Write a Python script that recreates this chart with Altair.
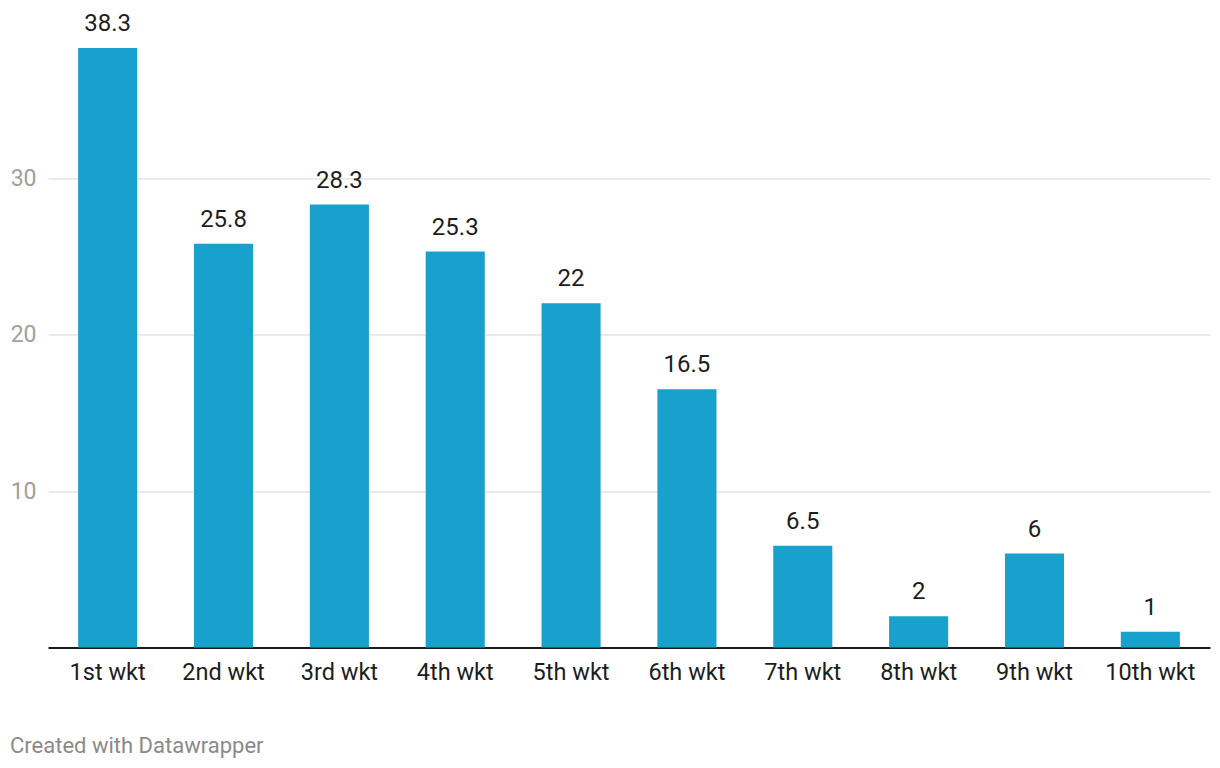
import altair as alt
import pandas as pd

categories = ["1st wkt", "2nd wkt", "3rd wkt", "4th wkt", "5th wkt",
              "6th wkt", "7th wkt", "8th wkt", "9th wkt", "10th wkt"]
values = [38.3, 25.8, 28.3, 25.3, 22, 16.5, 6.5, 2, 6, 1]
labels = ["38.3", "25.8", "28.3", "25.3", "22", "16.5", "6.5", "2", "6", "1"]
y_ticks = [10, 20, 30]
footer = "Created with Datawrapper"

df = pd.DataFrame({"cat": categories, "val": values, "lab": labels})

FONT = "Roboto"
W, H = 1162, 626

x = alt.X("cat:N", sort=categories, title=None,
          scale=alt.Scale(paddingInner=0.49, paddingOuter=0.26),
          axis=alt.Axis(labelAngle=0, labelFontSize=23.5, labelColor="#1d1d1d",
                        labelFont=FONT, labelPadding=13, ticks=False,
                        domain=True, domainColor="#1d1d1d", domainWidth=2,
                        labelFontWeight="normal"))
y = alt.Y("val:Q", title=None,
          scale=alt.Scale(domain=[0, 40], nice=False),
          axis=alt.Axis(values=y_ticks, labelFontSize=23, labelColor="#a0a0a0",
                        labelFont=FONT, labelPadding=12, ticks=False, domain=False,
                        grid=True, gridColor="#e3e3e3", gridWidth=1.3))

bars = alt.Chart(df).mark_bar(color="#18a1cd").encode(x=x, y=y)
text = alt.Chart(df).mark_text(dy=-12, baseline="bottom", fontSize=24,
                               font=FONT, color="#1d1d1d").encode(
    x=alt.X("cat:N", sort=categories), y="val:Q", text="lab:N")
foot = alt.Chart(pd.DataFrame({"t": [footer]})).mark_text(
    align="left", baseline="alphabetic", fontSize=22, font=FONT,
    color="#8a8a8a").encode(x=alt.value(-38), y=alt.value(731.5), text="t:N")

chart = alt.layer(bars, text, foot).properties(
    width=W, height=H, autosize=alt.AutoSizeParams(type="none"),
    padding={"left": 40, "top": 13.5, "right": 2, "bottom": 112},
    background="white"
).configure_view(stroke=None).configure_axis(labelFont=FONT)

chart.save("out.html", embed_options={"renderer": "svg", "actions": False})
